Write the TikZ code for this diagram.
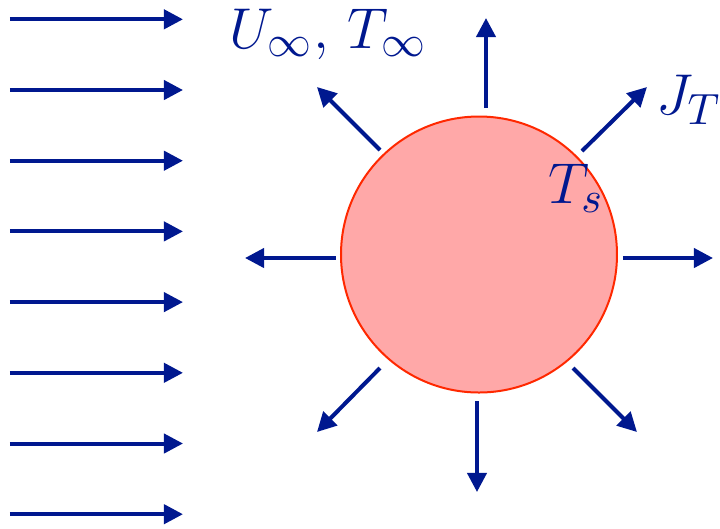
\documentclass[tikz,border=0pt]{standalone}
\usetikzlibrary{arrows.meta}
\definecolor{flowblue}{RGB}{0,24,143}
\definecolor{spherefill}{RGB}{255,168,168}
\definecolor{spherered}{RGB}{255,40,0}
\tikzset{
  flux/.style={flowblue, line width=1pt, -{Triangle[length=4.8pt,width=4.8pt]}},
  sphere/.style={circle, draw=spherered, fill=spherefill, line width=0.5pt, minimum size=69pt, inner sep=0pt},
  lbl/.style={text=flowblue, font=\fontsize{15.6pt}{18pt}\selectfont, inner sep=0pt}
}
\begin{document}
\begin{tikzpicture}[x=0.25pt, y=-0.25pt]
\useasboundingbox (0,0) rectangle (720,528);
% free stream
\foreach \k in {0,...,7}
  \draw[flux] (10, 19.3+70.7*\k) -- (183, 19.3+70.7*\k);
% sphere
\node[sphere] (ball) at (479,254.5) {};
% radial flux
\draw[flux] (486,108) -- (486,18);   % up
\draw[flux] (582,151) -- (647,87);   % upper right
\draw[flux] (623,258) -- (713,258);  % right
\draw[flux] (573,368) -- (637,432);  % lower right
\draw[flux] (477,401) -- (477,492);  % down
\draw[flux] (380,368) -- (317,432);  % lower left
\draw[flux] (336,258) -- (245,258);  % left
\draw[flux] (380,150) -- (317,87);   % upper left
% labels
\node[lbl] (inf) at (328,34) {$U_\infty,\,T_\infty$};
\node[lbl] (flux) at (689,100) {$J_T$};
\node[lbl] (surf) at (576,188) {$T_s$};
\end{tikzpicture}
\end{document}
